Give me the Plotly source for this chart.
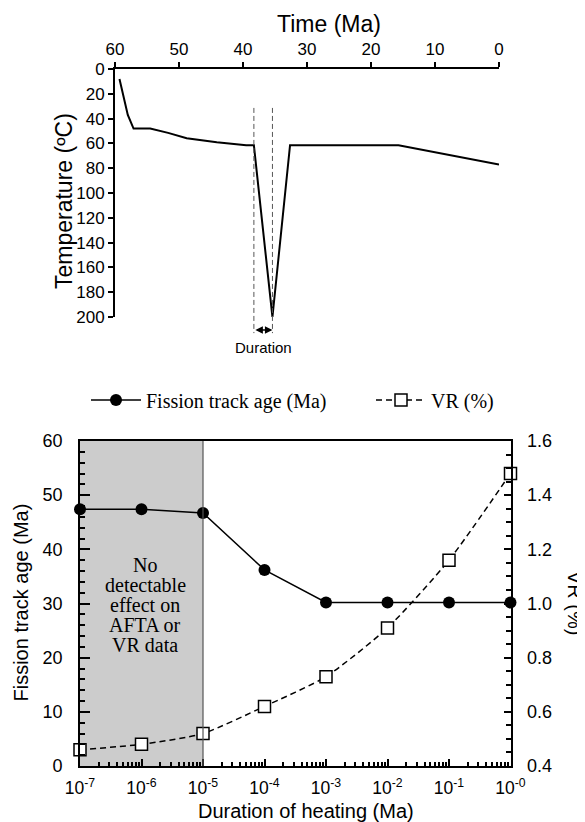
import plotly.graph_objects as go

# ---------------- data ----------------
# Top panel: thermal history
time_ma = [59.3, 58.0, 57.1, 54.5, 51.7, 48.8, 44.1, 39.5, 38.3, 35.4, 32.65, 15.7, 0.0]
temp_c = [8, 37, 48, 48, 51.5, 55.8, 59, 61.5, 61.5, 200, 61.5, 61.5, 77]
heating_start = 38.3
heating_peak = 35.4
time_ticks = [60, 50, 40, 30, 20, 10, 0]
temp_ticks = [0, 20, 40, 60, 80, 100, 120, 140, 160, 180, 200]

# Bottom panel
duration_ma = [1e-7, 1e-6, 1e-5, 1e-4, 1e-3, 1e-2, 1e-1, 1e0]
ft_age = [47.4, 47.4, 46.7, 36.2, 30.2, 30.2, 30.2, 30.2]
vr_pct = [0.46, 0.48, 0.52, 0.62, 0.73, 0.91, 1.16, 1.48]
duration_tick_vals = [1e-7, 1e-6, 1e-5, 1e-4, 1e-3, 1e-2, 1e-1, 1e0]
duration_tick_text = ["10<sup>-7</sup>", "10<sup>-6</sup>", "10<sup>-5</sup>", "10<sup>-4</sup>",
                      "10<sup>-3</sup>", "10<sup>-2</sup>", "10<sup>-1</sup>", "10<sup>-0</sup>"]
no_effect_limit = 1e-5
no_effect_lines = ["No", "detectable", "effect on", "AFTA or", "VR data"]

SANS = "Liberation Sans, Arial, sans-serif"
SERIF = "Liberation Serif, Times New Roman, serif"
OFF = 8            # page body margin
W, H = 585 - OFF, 822 - OFF

def px_x(p):
    return (p - OFF) / W

def px_y(p):
    return 1 - (p - OFF) / H

fig = go.Figure()

fig.add_trace(go.Scatter(
    x=time_ma, y=temp_c, mode="lines", xaxis="x", yaxis="y",
    line=dict(color="black", width=2), showlegend=False, hoverinfo="skip"))

fig.add_trace(go.Scatter(
    x=duration_ma, y=ft_age, mode="lines+markers", xaxis="x2", yaxis="y2",
    name="Fission track age (Ma)",
    line=dict(color="black", width=1.5),
    marker=dict(symbol="circle", size=12, color="black"),
    cliponaxis=False))

fig.add_trace(go.Scatter(
    x=duration_ma, y=vr_pct, mode="lines+markers", xaxis="x2", yaxis="y3",
    name="VR (%)",
    line=dict(color="black", width=1.5, dash="6px,4px", shape="spline", smoothing=0.6),
    marker=dict(symbol="square", size=12, color="white", line=dict(color="black", width=1.5)),
    cliponaxis=False))

# top axes geometry
top_x_dom = [px_x(115), px_x(499)]
top_y_dom = [px_y(317), px_y(69)]
t_range = [60, 0]

def t_dom(t):
    return (t_range[0] - t) / (t_range[0] - t_range[1])

shapes = []
for t in (heating_start, heating_peak):
    shapes.append(dict(type="line", xref="x domain", yref="y domain",
                       x0=t_dom(t), x1=t_dom(t), y0=0.843, y1=-0.065,
                       line=dict(color="#555555", width=1, dash="5px,3px")))

# shaded "no effect" region
shapes.append(dict(type="rect", xref="x2", yref="y2 domain",
                   x0=duration_ma[0], x1=no_effect_limit, y0=0, y1=1,
                   fillcolor="#cccccc", line=dict(width=0), layer="below"))
shapes.append(dict(type="line", xref="x2", yref="y2 domain",
                   x0=no_effect_limit, x1=no_effect_limit, y0=0, y1=1,
                   line=dict(color="#555555", width=1.2)))

def label(text, x, y, size, family=SANS, angle=0):
    return dict(text=text, xref="paper", yref="paper", x=px_x(x), y=px_y(y),
                xanchor="center", yanchor="middle", textangle=angle,
                showarrow=False, font=dict(family=family, size=size, color="black"))

annotations = [
    label("Time (Ma)", 329, 24, 23),
    label("Temperature (ºC)", 64, 201, 23, angle=-90),
    dict(text="", xref="x", yref="y domain", x=heating_peak, y=-0.052,
         axref="x", ax=heating_start, ayref="pixel", ay=0,
         showarrow=True, arrowhead=2, arrowside="end+start", arrowsize=1,
         arrowwidth=1.5, arrowcolor="black", standoff=0, startstandoff=0),
    dict(text="Duration", xref="x", yref="y domain",
         x=(heating_start + heating_peak) / 2, y=-0.121,
         xanchor="center", yanchor="middle",
         showarrow=False, font=dict(family=SANS, size=15, color="black")),
    label("Fission track age (Ma)", 20.5, 603, 20, angle=-90),
    label("VR (%)", 575, 603, 20, angle=90),
    label("Duration of heating (Ma)", 306, 811, 20),
]
for i, line in enumerate(no_effect_lines):
    annotations.append(label(line, 145, 565 + 20 * i, 20, family=SERIF))

minor_log = [k * 10.0 ** e for e in range(-7, 0) for k in range(2, 10)]

axis_common = dict(showline=True, linecolor="black", linewidth=1.8, showgrid=False,
                   zeroline=False, tickcolor="black", tickwidth=1.5, automargin=False)

fig.update_layout(
    template="none",
    width=W, height=H, margin=dict(l=0, r=0, t=0, b=0, autoexpand=False),
    paper_bgcolor="white", plot_bgcolor="rgba(0,0,0,0)",
    font=dict(family=SANS, color="black"),
    xaxis=dict(**axis_common, domain=top_x_dom, anchor="y", side="top",
               range=t_range, tickvals=time_ticks, ticks="outside", ticklen=5,
               tickfont=dict(size=17)),
    yaxis=dict(**axis_common, domain=top_y_dom, anchor="x", range=[200, 0],
               tickvals=temp_ticks, ticks="outside", ticklen=5,
               tickfont=dict(size=17)),
    xaxis2=dict(**axis_common, domain=[px_x(80), px_x(510.5)], anchor="y2",
                type="log", range=[-7, 0], mirror=True,
                tickvals=duration_tick_vals, ticktext=duration_tick_text,
                ticks="inside", ticklen=7, ticklabelstandoff=5,
                tickfont=dict(size=17.5),
                minor=dict(tickvals=minor_log, ticks="inside", ticklen=4,
                           tickwidth=1.5, tickcolor="black", showgrid=False)),
    yaxis2=dict(**axis_common, domain=[px_y(766), px_y(441)], anchor="x2",
                range=[0, 60], dtick=10, ticks="inside", ticklen=10,
                ticklabelstandoff=12, tickfont=dict(size=18),
                minor=dict(dtick=2, ticks="inside", ticklen=5, tickwidth=1.5,
                           tickcolor="black", showgrid=False)),
    yaxis3=dict(**axis_common, overlaying="y2", anchor="x2", side="right",
                range=[0.4, 1.6], dtick=0.2, tickformat=".1f", ticks="inside",
                ticklen=7, ticklabelstandoff=11, tickfont=dict(size=18),
                minor=dict(dtick=0.05, ticks="inside", ticklen=5, tickwidth=1.5,
                           tickcolor="black", showgrid=False)),
    legend=dict(orientation="h", x=px_x(86), y=px_y(400), xanchor="left", yanchor="middle",
                font=dict(family=SERIF, size=20, color="black"),
                bgcolor="rgba(0,0,0,0)", itemwidth=50, entrywidth=220,
                traceorder="normal"),
    shapes=shapes, annotations=annotations,
)

fig.write_html("out.html")
